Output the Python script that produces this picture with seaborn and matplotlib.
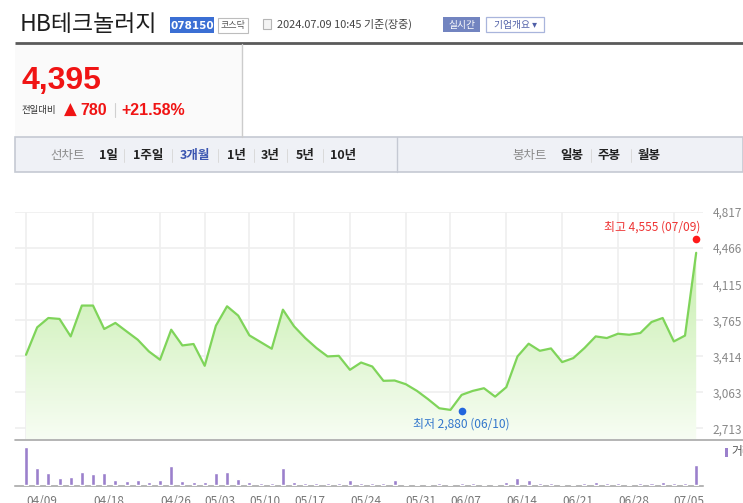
import matplotlib
matplotlib.use("Agg")
import matplotlib.pyplot as plt
from matplotlib.patches import Rectangle
from matplotlib.ticker import FuncFormatter
import numpy as np
import pandas as pd
import seaborn as sns

# ---- data ----
dates = [
    "04/09", "04/11", "04/12", "04/15", "04/16", "04/17", "04/18", "04/19", "04/22", "04/23",
    "04/24", "04/25", "04/26", "04/29", "04/30", "05/02", "05/03", "05/07", "05/08", "05/09",
    "05/10", "05/13", "05/14", "05/16", "05/17", "05/20", "05/21", "05/22", "05/23", "05/24",
    "05/27", "05/28", "05/29", "05/30", "05/31", "06/03", "06/04", "06/05", "06/07", "06/10",
    "06/11", "06/12", "06/13", "06/14", "06/17", "06/18", "06/19", "06/20", "06/21", "06/24",
    "06/25", "06/26", "06/27", "06/28", "07/01", "07/02", "07/03", "07/04", "07/05", "07/08",
    "07/09",
]
closes = [
    3428, 3695, 3786, 3777, 3607, 3907, 3907, 3679, 3738, 3656,
    3575, 3461, 3380, 3672, 3519, 3533, 3321, 3711, 3900, 3809,
    3617, 3552, 3487, 3867, 3705, 3591, 3494, 3412, 3418, 3282,
    3353, 3314, 3175, 3178, 3142, 3077, 2996, 2908, 2892, 3038,
    3077, 3103, 3021, 3113, 3412, 3536, 3467, 3490, 3357, 3396,
    3494, 3607, 3591, 3633, 3623, 3640, 3747, 3786, 3558, 3615,
    4420,
]
volumes = [  # thousand shares
    2875, 1250, 875, 500, 575, 1000, 800, 875, 375, 300,
    375, 200, 375, 1425, 300, 200, 200, 925, 1000, 450,
    200, 125, 125, 1300, 200, 125, 125, 125, 125, 375,
    125, 125, 125, 375, 50, 50, 50, 125, 50, 125,
    125, 75, 75, 200, 500, 375, 125, 125, 75, 75,
    125, 200, 125, 125, 75, 125, 125, 200, 125, 125,
    1500,
]
tick_dates = ["04/09", "04/18", "04/26", "05/03", "05/10", "05/17", "05/24",
              "05/31", "06/07", "06/14", "06/21", "06/28", "07/05"]
price_ticks = [2713, 3063, 3414, 3765, 4115, 4466, 4817]
high_val, high_date = 4555, "07/09"
low_val, low_date = 2880, "06/10"

df = pd.DataFrame({"i": range(len(dates)), "date": dates, "close": closes, "volume": volumes})

# ---- styling ----
sns.set_style("white")
plt.rcParams["font.family"] = ["Noto Sans CJK KR", "DejaVu Sans"]

W, H = 743, 503
LINE = "#7fd45a"
PURPLE = "#9b80cc"
RED = "#f01414"


def rect(x0, y0, x1, y1):
    return [x0 / W, 1 - y1 / H, (x1 - x0) / W, (y1 - y0) / H]


fig = plt.figure(figsize=(W / 100, H / 100), dpi=100)

# pixel-space background layer for the page furniture
bg = fig.add_axes([0, 0, 1, 1])
bg.set_xlim(0, W)
bg.set_ylim(H, 0)
bg.axis("off")

# header
bg.text(20, 24, "HB테크놀러지", fontsize=16.5, color="#1e1e1e", va="center", ha="left")
bg.add_patch(Rectangle((170, 17), 44, 16, facecolor="#3b6fd4", edgecolor="none"))
bg.text(192, 25.5, "078150", fontsize=7.5, color="white", weight="bold",
        family="DejaVu Sans", va="center", ha="center")
bg.add_patch(Rectangle((218, 18), 30, 15, facecolor="white", edgecolor="#bdbdbd", lw=0.8))
bg.text(233, 25.5, "코스닥", fontsize=6.5, color="#555555", va="center", ha="center")
bg.add_patch(Rectangle((263, 19), 8, 10, facecolor="#f4f4f4", edgecolor="#b5b5b5", lw=0.8))
bg.text(277, 24.5, "2024.07.09 10:45 기준(장중)", fontsize=7.9, color="#444444",
        va="center", ha="left")
bg.add_patch(Rectangle((443, 17), 37, 15, facecolor="#7284c0", edgecolor="none"))
bg.text(461.5, 24.5, "실시간", fontsize=7, color="white", va="center", ha="center")
bg.add_patch(Rectangle((486, 17), 58, 15, facecolor="white", edgecolor="#a9b5dc", lw=0.9))
bg.text(515, 24.5, "기업개요 ▾", fontsize=7, color="#5060a8", va="center", ha="center")
bg.plot([15, 743], [43, 43], color="#5a5a5a", lw=2, solid_capstyle="butt")

# price box
bg.add_patch(Rectangle((15, 44), 226.7, 93, facecolor="#fafafa", edgecolor="none"))
bg.plot([241.7, 241.7], [44, 137], color="#cccccc", lw=1)
bg.text(21, 81, "4,395", fontsize=23, color=RED, weight="bold", family="Liberation Sans",
        va="center", ha="left")
bg.text(22, 110, "전일대비", fontsize=6.8, color="#333333", va="center", ha="left")
bg.text(64, 110, "▲", fontsize=12, color=RED, family="DejaVu Sans", va="center", ha="left")
bg.text(80, 110, "780", fontsize=11.5, color=RED, weight="bold", family="Liberation Sans",
        va="center", ha="left")
bg.plot([115, 115], [103, 117], color="#d0d0d0", lw=0.8)
bg.text(121, 110, "+21.58%", fontsize=11.5, color=RED, weight="bold", family="Liberation Sans",
        va="center", ha="left")

# chart type bar
bg.add_patch(Rectangle((15, 137.3), 728, 34.4, facecolor="#eff1f6", edgecolor="#c5c9d3", lw=1.2))
bg.plot([396.5, 396.5], [137.3, 171.7], color="#c5c9d3", lw=1)
nav_items = [("선차트", 50.5, "#8a8a8a", "normal"), ("1일", 99, "#222222", "bold"),
             ("1주일", 133, "#222222", "bold"), ("3개월", 180, "#3a55b0", "bold"),
             ("1년", 227, "#222222", "bold"), ("3년", 261, "#222222", "bold"),
             ("5년", 296, "#222222", "bold"), ("10년", 330, "#222222", "bold"),
             ("봉차트", 512, "#8a8a8a", "normal"), ("일봉", 560, "#222222", "bold"),
             ("주봉", 598, "#222222", "bold"), ("월봉", 638, "#222222", "bold")]
for label, x, c, w in nav_items:
    bg.text(x, 155, label, fontsize=9, color=c, weight=w, va="center", ha="left")
for x in [124, 172, 218, 254, 287, 323, 591, 631]:
    bg.plot([x, x], [149, 162], color="#dadada", lw=0.7)

# ---- price panel ----
ax = fig.add_axes(rect(15, 212, 703, 439))
ax.set_facecolor("none")
ymin, ymax = 2609, 4817
xmin, xmax = -0.985, 60.61

ax.set_xticks([dates.index(d) for d in tick_dates])
ax.set_yticks(price_ticks)
ax.grid(True, color="#efefef", lw=1.2)
ax.set_axisbelow(True)

top_c = np.array([0xbc, 0xeb, 0x9e]) / 255
bot_c = np.array([0xf7, 0xfd, 0xf3]) / 255
t = np.linspace(0, 1, 256)[:, None]
grad = (bot_c[None, :] * (1 - t) + top_c[None, :] * t)[:, None, :]
img = ax.imshow(grad, extent=[xmin, xmax, ymin, ymax], aspect="auto", origin="lower", zorder=1)
poly = ax.fill_between(df["i"], df["close"], ymin, facecolor="none", edgecolor="none")
img.set_clip_path(poly.get_paths()[0], transform=ax.transData)

sns.lineplot(data=df, x="i", y="close", ax=ax, color=LINE, lw=1.6, zorder=3)

hi_i, lo_i = dates.index(high_date), dates.index(low_date)
ax.plot([hi_i], [high_val], "o", ms=5.5, color="#ff1a1a", mec="none", zorder=4, clip_on=False)
ax.plot([lo_i], [low_val], "o", ms=5.5, color="#2266dd", mec="none", zorder=4, clip_on=False)
ax.annotate(f"최고 {high_val:,} ({high_date})", xy=(hi_i, high_val), xytext=(3, 8.5),
            textcoords="offset points", ha="right", va="center", fontsize=8.6, color="#ee3333")
ax.annotate(f"최저 {low_val:,} ({low_date})", xy=(lo_i, low_val), xytext=(0, -9.2),
            textcoords="offset points", ha="center", va="center", fontsize=8.6, color="#3377cc")

ax.set_xlim(xmin, xmax)
ax.set_ylim(ymin, ymax)
ax.yaxis.tick_right()
ax.yaxis.set_major_formatter(FuncFormatter(lambda v, p: f"{v:,.0f}"))
ax.tick_params(axis="y", length=0, pad=7, labelsize=8.5, labelcolor="#888888")
ax.tick_params(axis="x", length=0, labelbottom=False)
ax.set_xlabel("")
ax.set_ylabel("")
sns.despine(ax=ax, left=True, bottom=True, right=True, top=True)

bg.plot([15, 743], [439.5, 439.5], color="#a8a8a8", lw=1.2)

# ---- volume panel ----
vax = fig.add_axes(rect(15, 440, 703, 485.5))
vax.set_facecolor("none")
sns.barplot(data=df, x="i", y="volume", ax=vax, native_scale=True, width=0.36,
            color=PURPLE, saturation=1, errorbar=None, zorder=4)
sns.despine(ax=vax, left=True, top=True, right=True)
vax.spines["bottom"].set_color("#a0a0a0")
vax.spines["bottom"].set_linewidth(1.1)
vax.spines["bottom"].set_zorder(1)
vax.set_xlim(xmin, xmax)
vax.set_ylim(-40, 3380)
vax.set_xticks([dates.index(d) for d in tick_dates])
vax.set_xticklabels(tick_dates, ha="left")
vax.tick_params(axis="x", length=3.5, width=0.8, color="#999999", pad=3,
                labelsize=8.5, labelcolor="#777777")
vax.set_yticks([])
vax.set_xlabel("")
vax.set_ylabel("")

bg.add_patch(Rectangle((725, 447.5), 3, 9, facecolor=PURPLE, edgecolor="none"))
bg.text(731, 452, "거래량", fontsize=8.5, color="#555555", va="center", ha="left")

fig.savefig("out.png", dpi=100)
